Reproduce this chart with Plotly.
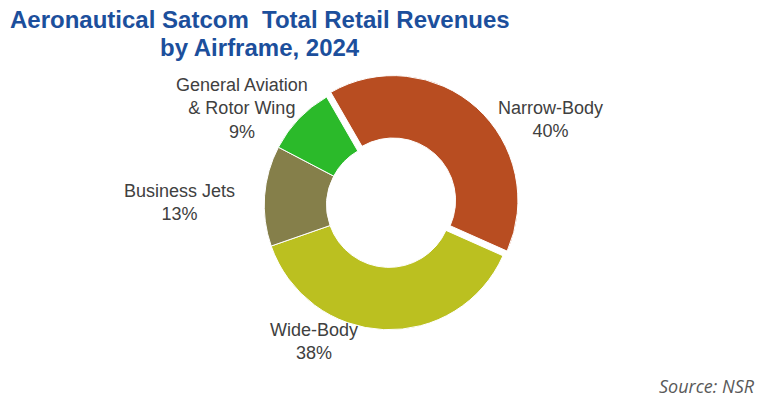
import plotly.graph_objects as go

airframes = ['Narrow-Body', 'Wide-Body', 'Business Jets', 'General Aviation<br>& Rotor Wing']
shares = [40, 38, 13, 9]
colors = ['#B84D21', '#BBC020', '#857F4A', '#2BBA2A']

title_lines = ['Aeronautical Satcom  Total Retail Revenues', 'by Airframe, 2024']
source_text = 'Source: NSR'

# label centres in paper coords, outside the ring like the original
label_pos = [(0.7165, 0.7030), (0.4083, 0.1559), (0.2328, 0.5000), (0.3153, 0.7302)]

fig = go.Figure(go.Pie(
    labels=airframes,
    values=shares,
    sort=False,
    direction='clockwise',
    rotation=-30,
    hole=0.5,
    pull=[0.05, 0, 0, 0],
    marker=dict(colors=colors, line=dict(color='white', width=1)),
    textinfo='none',
    hoverinfo='label+percent',
    domain=dict(x=[0.3355, 0.6762], y=[0.1683, 0.8168]),
))

for name, val, (x, y) in zip(airframes, shares, label_pos):
    fig.add_annotation(
        x=x, y=y, xref='paper', yref='paper',
        xanchor='center', yanchor='middle',
        text=f'{name}<br>{val}%',
        showarrow=False,
        font=dict(family='Liberation Sans, Arial', size=18, color='#404040'),
        align='center',
    )

for line, y in zip(title_lines, [0.9522, 0.8829]):
    fig.add_annotation(
        x=0.3381, y=y, xref='paper', yref='paper',
        xanchor='center', yanchor='middle',
        text=f'<b>{line}</b>', showarrow=False,
        font=dict(family='Liberation Sans, Arial', size=24, color='#1C4F9C'),
    )

fig.add_annotation(
    x=0.9844, y=0.0446, xref='paper', yref='paper',
    xanchor='right', yanchor='middle',
    text=f'<i>{source_text}</i>', showarrow=False,
    font=dict(family='Open Sans', size=18, color='#595959'),
)

fig.update_layout(
    width=769, height=404,
    margin=dict(l=0, r=0, t=0, b=0),
    paper_bgcolor='white',
    showlegend=False,
)

# drop the default 8px body margin so the figure fills the window
fig.write_html('out.html', config={'displayModeBar': False},
               post_script="document.body.style.margin='0px';")
